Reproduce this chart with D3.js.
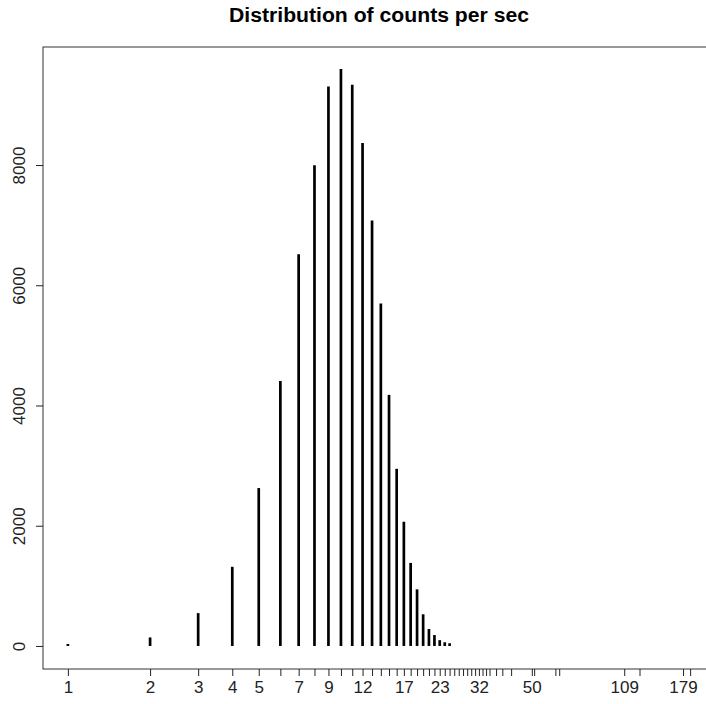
<!DOCTYPE html>
<html>
<head>
<meta charset="utf-8">
<script src="https://cdn.jsdelivr.net/npm/d3@7"></script>
<style>
  html, body { margin: 0; padding: 0; background: #fff; }
  svg { display: block; }
  text { font-family: "Liberation Sans", Arial, sans-serif; }
</style>
</head>
<body>
<svg id="chart" width="706" height="704"></svg>
<script>
// ---- data ----
const chartTitle = "Distribution of counts per sec";
const countValues = [1,2,3,4,5,6,7,8,9,10,11,12,13,14,15,16,17,18,19,20,
  21,22,23,24,25,26,27,28,29,30,31,32,33,34,35,37,39,42,50,51,61,63,109,124,179,190];
const frequencies = [16,125,530,1300,2610,4390,6500,7980,9290,9580,9320,8350,7060,5680,4160,2930,2050,1365,925,510,
  265,165,80,45,28,6,4,3,2,2,1,1,1,1,1,1,1,1,1,1,1,1,1,1,1,1];
const xTickLabels = [1,2,3,4,5,7,9,12,17,23,32,50,109,179];
const yTicks = [0,2000,4000,6000,8000];

// ---- layout ----
const svg = d3.select("#chart");
const plotLeft = 43, plotRight = 715, plotTop = 47, plotBottom = 669;

const lmin = Math.log10(d3.min(countValues)), lmax = Math.log10(d3.max(countValues));
const lpad = 0.04 * (lmax - lmin);
const x = d3.scaleLog()
  .domain([Math.pow(10, lmin - lpad), Math.pow(10, lmax + lpad)])
  .range([plotLeft, plotRight]);
const ymax = d3.max(frequencies);
const y = d3.scaleLinear()
  .domain([-0.04 * ymax, 1.04 * ymax])
  .range([plotBottom, plotTop]);

const data = countValues.map((v, i) => ({v, n: frequencies[i]}));

// bars (type="h")
svg.append("g").selectAll("line").data(data).join("line")
  .attr("x1", d => x(d.v)).attr("x2", d => x(d.v))
  .attr("y1", y(0)).attr("y2", d => y(d.n) - 1)
  .attr("stroke", "#000").attr("stroke-width", 2.7)
  .attr("stroke-linecap", "butt")
  .attr("opacity", d => d.n < 10 ? 0 : 1);

// box
svg.append("rect")
  .attr("x", plotLeft).attr("y", plotTop)
  .attr("width", plotRight - plotLeft).attr("height", plotBottom - plotTop)
  .attr("fill", "none").attr("stroke", "#333").attr("stroke-width", 1);

// x axis
const xAxis = d3.axisBottom(x)
  .tickValues(countValues)
  .tickSize(7).tickPadding(5)
  .tickFormat(d => xTickLabels.includes(d) ? String(d) : "");
const gx = svg.append("g").attr("transform", `translate(0,${plotBottom})`).call(xAxis);
gx.select(".domain").remove();
gx.selectAll(".tick line").attr("stroke", "#222");
gx.selectAll(".tick text").attr("font-size", 17).attr("fill", "#222")
  .attr("font-family", "'Liberation Sans', Arial, sans-serif");

// y axis
const yAxis = d3.axisLeft(y).tickValues(yTicks).tickSize(7).tickPadding(0)
  .tickFormat(d3.format("d"));
const gy = svg.append("g").attr("transform", `translate(${plotLeft},0)`).call(yAxis);
gy.select(".domain").remove();
gy.selectAll(".tick line").attr("stroke", "#222");
gy.selectAll(".tick text")
  .attr("font-size", 17).attr("fill", "#222")
  .attr("font-family", "'Liberation Sans', Arial, sans-serif")
  .attr("text-anchor", "middle")
  .attr("transform", "translate(-24,0) rotate(-90)")
  .attr("x", 0).attr("dy", "0.35em");

// title
svg.append("text")
  .attr("x", (plotLeft + plotRight) / 2).attr("y", 22)
  .attr("text-anchor", "middle")
  .attr("font-size", 20).attr("font-weight", "bold").attr("fill", "#000")
  .attr("textLength", 300).attr("lengthAdjust", "spacingAndGlyphs")
  .text(chartTitle);
</script>
</body>
</html>
